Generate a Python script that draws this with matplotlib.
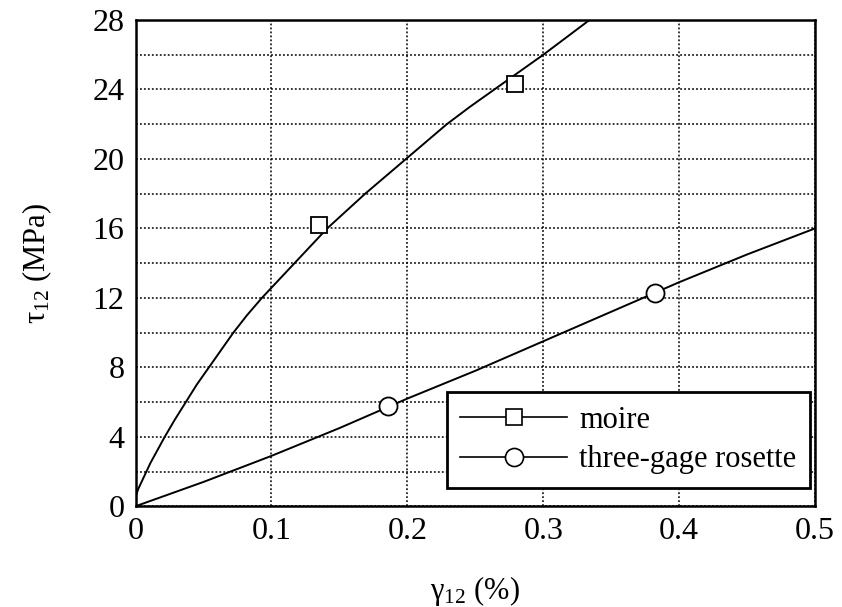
import matplotlib
matplotlib.use('Agg')
import matplotlib.pyplot as plt
from matplotlib.ticker import MultipleLocator

plt.rcParams['font.family'] = ['Liberation Serif', 'DejaVu Serif']
plt.rcParams['mathtext.fontset'] = 'custom'
plt.rcParams['mathtext.rm'] = 'Liberation Serif'
plt.rcParams['mathtext.it'] = 'Liberation Serif'

# --- data ---
moire_curve_x = [0.0, 0.002, 0.005, 0.008, 0.011, 0.0145, 0.018, 0.0215, 0.029,
                 0.037, 0.045, 0.054, 0.063, 0.072, 0.082, 0.093, 0.105, 0.117,
                 0.129, 0.141, 0.155, 0.169, 0.184, 0.199, 0.214, 0.229, 0.246,
                 0.264, 0.282, 0.300, 0.317, 0.334, 0.350]
moire_curve_y = [0.55, 1.0, 1.5, 2.0, 2.5, 3.0, 3.5, 4.0, 5.0,
                 6.0, 7.0, 8.0, 9.0, 10.0, 11.0, 12.0, 13.0, 14.0,
                 15.0, 16.0, 17.0, 18.0, 19.0, 20.0, 21.0, 22.0, 23.0,
                 24.0, 25.0, 26.0, 27.0, 28.0, 28.9]
moire_pts_x = [0.135, 0.279]
moire_pts_y = [16.2, 24.3]

rosette_curve_x = [0.0, 0.05, 0.10, 0.15, 0.20, 0.25, 0.30, 0.35, 0.40, 0.45, 0.50]
rosette_curve_y = [0.0, 1.4, 2.9, 4.5, 6.2, 7.8, 9.5, 11.2, 12.9, 14.5, 16.0]
rosette_pts_x = [0.186, 0.382]
rosette_pts_y = [5.8, 12.3]

x_ticks = [0, 0.1, 0.2, 0.3, 0.4, 0.5]
x_ticklabels = ['0', '0.1', '0.2', '0.3', '0.4', '0.5']
y_ticks = [0, 4, 8, 12, 16, 20, 24, 28]

fig = plt.figure(figsize=(8.42, 6.07), dpi=100)
ax = fig.add_axes([0.161, 0.166, 0.807, 0.801])

# curves
ax.plot(moire_curve_x, moire_curve_y, color='black', lw=1.4, zorder=3)
ax.plot(rosette_curve_x, rosette_curve_y, color='black', lw=1.4, zorder=3)

# measured points
ax.plot(moire_pts_x, moire_pts_y, ls='none', marker='s', ms=12, mfc='white',
        mec='black', mew=1.3, zorder=4)
ax.plot(rosette_pts_x, rosette_pts_y, ls='none', marker='o', ms=13, mfc='white',
        mec='black', mew=1.3, zorder=4)

# legend proxies
ax.plot([], [], color='black', lw=1.2, marker='s', ms=12, mfc='white',
        mec='black', mew=1.2, label='moire')
ax.plot([], [], color='black', lw=1.2, marker='o', ms=13, mfc='white',
        mec='black', mew=1.2, label='three-gage rosette')

ax.set_xlim(0, 0.5)
ax.set_ylim(0, 28)
ax.set_xticks(x_ticks)
ax.set_xticklabels(x_ticklabels)
ax.set_yticks(y_ticks)
ax.yaxis.set_minor_locator(MultipleLocator(2))

ax.grid(which='major', axis='both', ls=(0, (1.2, 1.4)), color='black', lw=1.1)
ax.grid(which='minor', axis='y', ls=(0, (1.2, 1.4)), color='black', lw=1.1)
ax.tick_params(which='both', length=0, labelsize=23, pad=8)
for s in ax.spines.values():
    s.set_linewidth(1.8)

ax.set_xlabel(r'γ$_{12}$ (%)', fontsize=22, labelpad=20)
ax.set_ylabel(r'τ$_{12}$ (MPa)', fontsize=22, labelpad=28)

leg = ax.legend(loc='lower right', bbox_to_anchor=(0.993, 0.037), fontsize=22,
                frameon=True, fancybox=False, edgecolor='black', framealpha=1,
                handlelength=3.5, handletextpad=0.4, borderpad=0.45,
                labelspacing=0.35, borderaxespad=0)
leg.get_frame().set_linewidth(2)

fig.savefig('out.png', dpi=100)
